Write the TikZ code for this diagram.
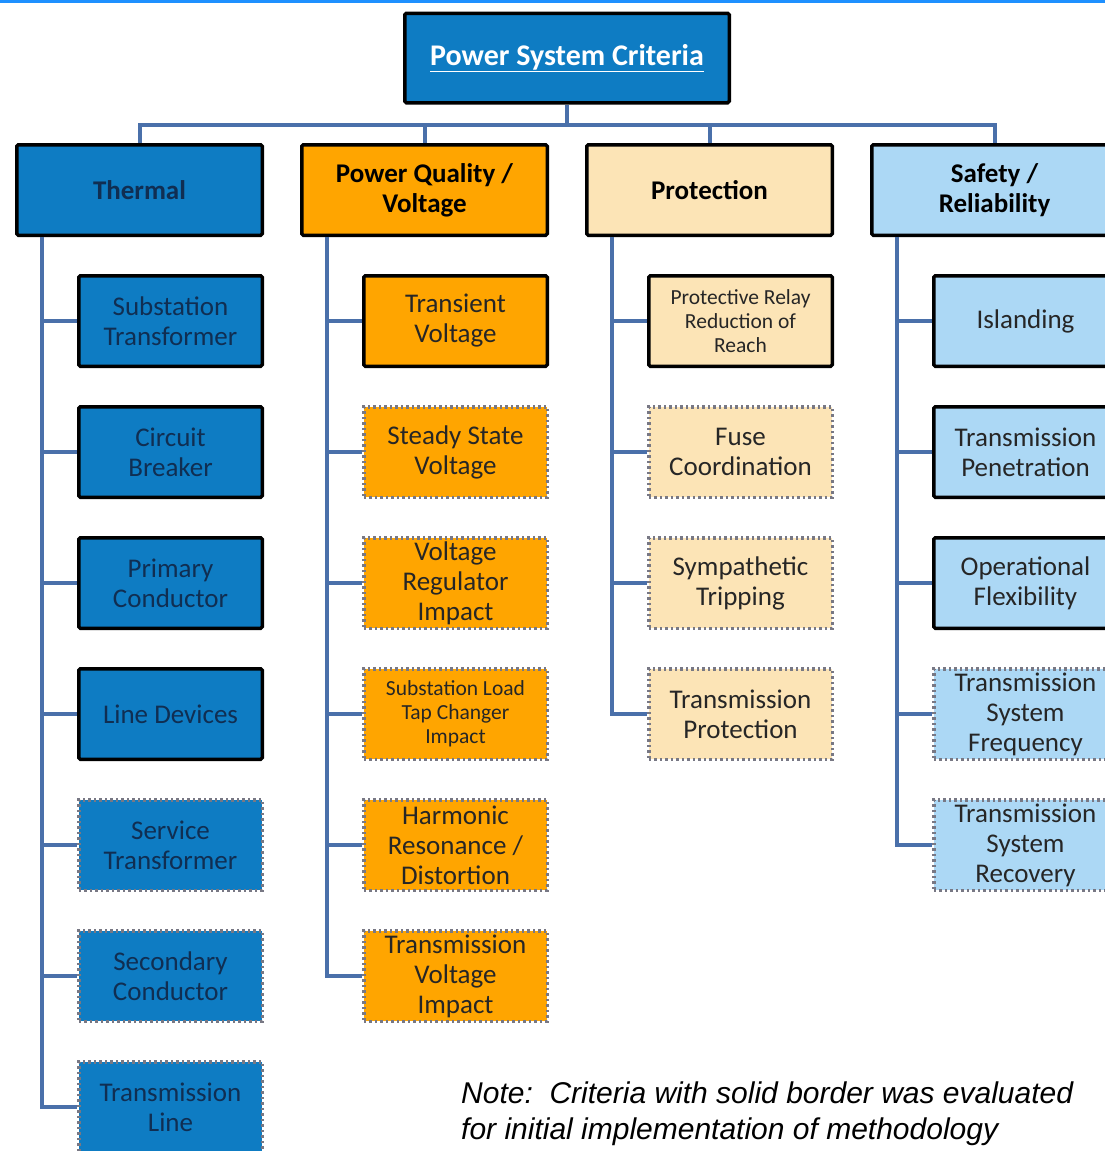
\documentclass[tikz,border=0pt]{standalone}
\usepackage{fontspec}
\setmainfont{Carlito}
\newfontfamily\notefont{Liberation Sans}
\usepackage{xcolor}
\usepackage{tikz}
\usetikzlibrary{positioning,calc}

\definecolor{thblue}{RGB}{14,124,195}
\definecolor{thtext}{RGB}{16,46,82}
\definecolor{pqorange}{RGB}{255,165,0}
\definecolor{prpeach}{RGB}{252,228,182}
\definecolor{srblue}{RGB}{172,216,245}
\definecolor{linkblue}{RGB}{74,112,170}
\definecolor{dotgray}{RGB}{120,120,132}
\definecolor{topblue}{RGB}{30,144,255}

\begin{document}
\begin{tikzpicture}[x=1pt, y=1pt,
    every node/.style = {rectangle, align=center, inner sep=0pt},
    head/.style = {draw=black, line width=3.5pt, rounded corners=1.5pt, minimum width=245.5pt, minimum height=90.5pt, font=\fontsize{27}{30}\selectfont\bfseries},
    item/.style = {minimum width=183.5pt, minimum height=90.5pt, line width=3.5pt, text=black!85, font=\fontsize{27}{30}\selectfont},
    sbox/.style = {item, draw=black, rounded corners=1.5pt},
    dbox/.style = {item, draw=dotgray, dash pattern=on 2.5pt off 3pt},
    small/.style = {font=\fontsize{21.5}{24}\selectfont},
    link/.style = {draw=linkblue, line width=4pt},
    node distance = 37pt
  ]
  \useasboundingbox (0,0) rectangle (1105,-1151);
  \fill[topblue] (0,0) rectangle (1105,-3);

  % top of the tree
  \node[head, fill=thblue, text=white, minimum width=324.5pt, minimum height=89.5pt, font=\fontsize{30}{32}\selectfont\bfseries] (root) at (567,-58) {\underline{Power System Criteria}};

  % four groups
  \node[head, fill=thblue, text=thtext] (th) at (139.5,-190) {Thermal};
  \node[head, fill=pqorange] (pq) at (424.5,-190) {Power Quality /\\Voltage};
  \node[head, fill=prpeach] (pr) at (709.5,-190) {Protection};
  \node[head, fill=srblue] (sr) at (994.5,-190) {Safety /\\Reliability};

  % thermal
  \node[sbox, fill=thblue, text=thtext, below=of th.south east, anchor=north east] (th1) {Substation\\Transformer};
  \node[sbox, fill=thblue, text=thtext, below=of th1] (th2) {Circuit\\Breaker};
  \node[sbox, fill=thblue, text=thtext, below=of th2] (th3) {Primary\\Conductor};
  \node[sbox, fill=thblue, text=thtext, below=of th3] (th4) {Line Devices};
  \node[dbox, fill=thblue, text=thtext, below=of th4] (th5) {Service\\Transformer};
  \node[dbox, fill=thblue, text=thtext, below=of th5] (th6) {Secondary\\Conductor};
  \node[dbox, fill=thblue, text=thtext, below=of th6] (th7) {Transmission\\Line};

  % power quality
  \node[sbox, fill=pqorange, below=of pq.south east, anchor=north east] (pq1) {Transient\\Voltage};
  \node[dbox, fill=pqorange, below=of pq1] (pq2) {Steady State\\Voltage};
  \node[dbox, fill=pqorange, below=of pq2] (pq3) {Voltage\\Regulator\\Impact};
  \node[dbox, fill=pqorange, small, below=of pq3] (pq4) {Substation Load\\Tap Changer\\Impact};
  \node[dbox, fill=pqorange, below=of pq4] (pq5) {Harmonic\\Resonance /\\Distortion};
  \node[dbox, fill=pqorange, below=of pq5] (pq6) {Transmission\\Voltage\\Impact};

  % protection
  \node[sbox, fill=prpeach, small, below=of pr.south east, anchor=north east] (pr1) {Protective Relay\\Reduction of\\Reach};
  \node[dbox, fill=prpeach, below=of pr1] (pr2) {Fuse\\Coordination};
  \node[dbox, fill=prpeach, below=of pr2] (pr3) {Sympathetic\\Tripping};
  \node[dbox, fill=prpeach, below=of pr3] (pr4) {Transmission\\Protection};

  % safety
  \node[sbox, fill=srblue, below=of sr.south east, anchor=north east] (sr1) {Islanding};
  \node[sbox, fill=srblue, below=of sr1] (sr2) {Transmission\\Penetration};
  \node[sbox, fill=srblue, below=of sr2] (sr3) {Operational\\Flexibility};
  \node[dbox, fill=srblue, below=of sr3] (sr4) {Transmission\\System\\Frequency};
  \node[dbox, fill=srblue, below=of sr4] (sr5) {Transmission\\System\\Recovery};

  % bus under the top box
  \coordinate (bus) at (0,-125);
  \draw[link] (root) -- (root |- bus);
  \draw[link] (th) |- (bus -| sr) -- (sr);
  \draw[link] (pq) -- (pq |- bus);
  \draw[link] (pr) -- (pr |- bus);

  % trunks
  \coordinate (tt) at ([xshift=27pt]th.south west);
  \coordinate (tq) at ([xshift=27pt]pq.south west);
  \coordinate (tr) at ([xshift=27pt]pr.south west);
  \coordinate (ts) at ([xshift=27pt]sr.south west);
  \draw[link] (tt) |- (th7);
  \draw[link] (tq) |- (pq6);
  \draw[link] (tr) |- (pr4);
  \draw[link] (ts) |- (sr5);
  \foreach \n in {th1,th2,th3,th4,th5,th6} \draw[link] (\n.west) -- (\n.west -| tt);
  \foreach \n in {pq1,pq2,pq3,pq4,pq5} \draw[link] (\n.west) -- (\n.west -| tq);
  \foreach \n in {pr1,pr2,pr3} \draw[link] (\n.west) -- (\n.west -| tr);
  \foreach \n in {sr1,sr2,sr3,sr4} \draw[link] (\n.west) -- (\n.west -| ts);

  \node[anchor=north west, align=left, font=\notefont\itshape\fontsize{30}{36}\selectfont] (note) at (461,-1082) {Note:\ \ Criteria with solid border was evaluated\\for initial implementation of methodology};
\end{tikzpicture}
\end{document}
